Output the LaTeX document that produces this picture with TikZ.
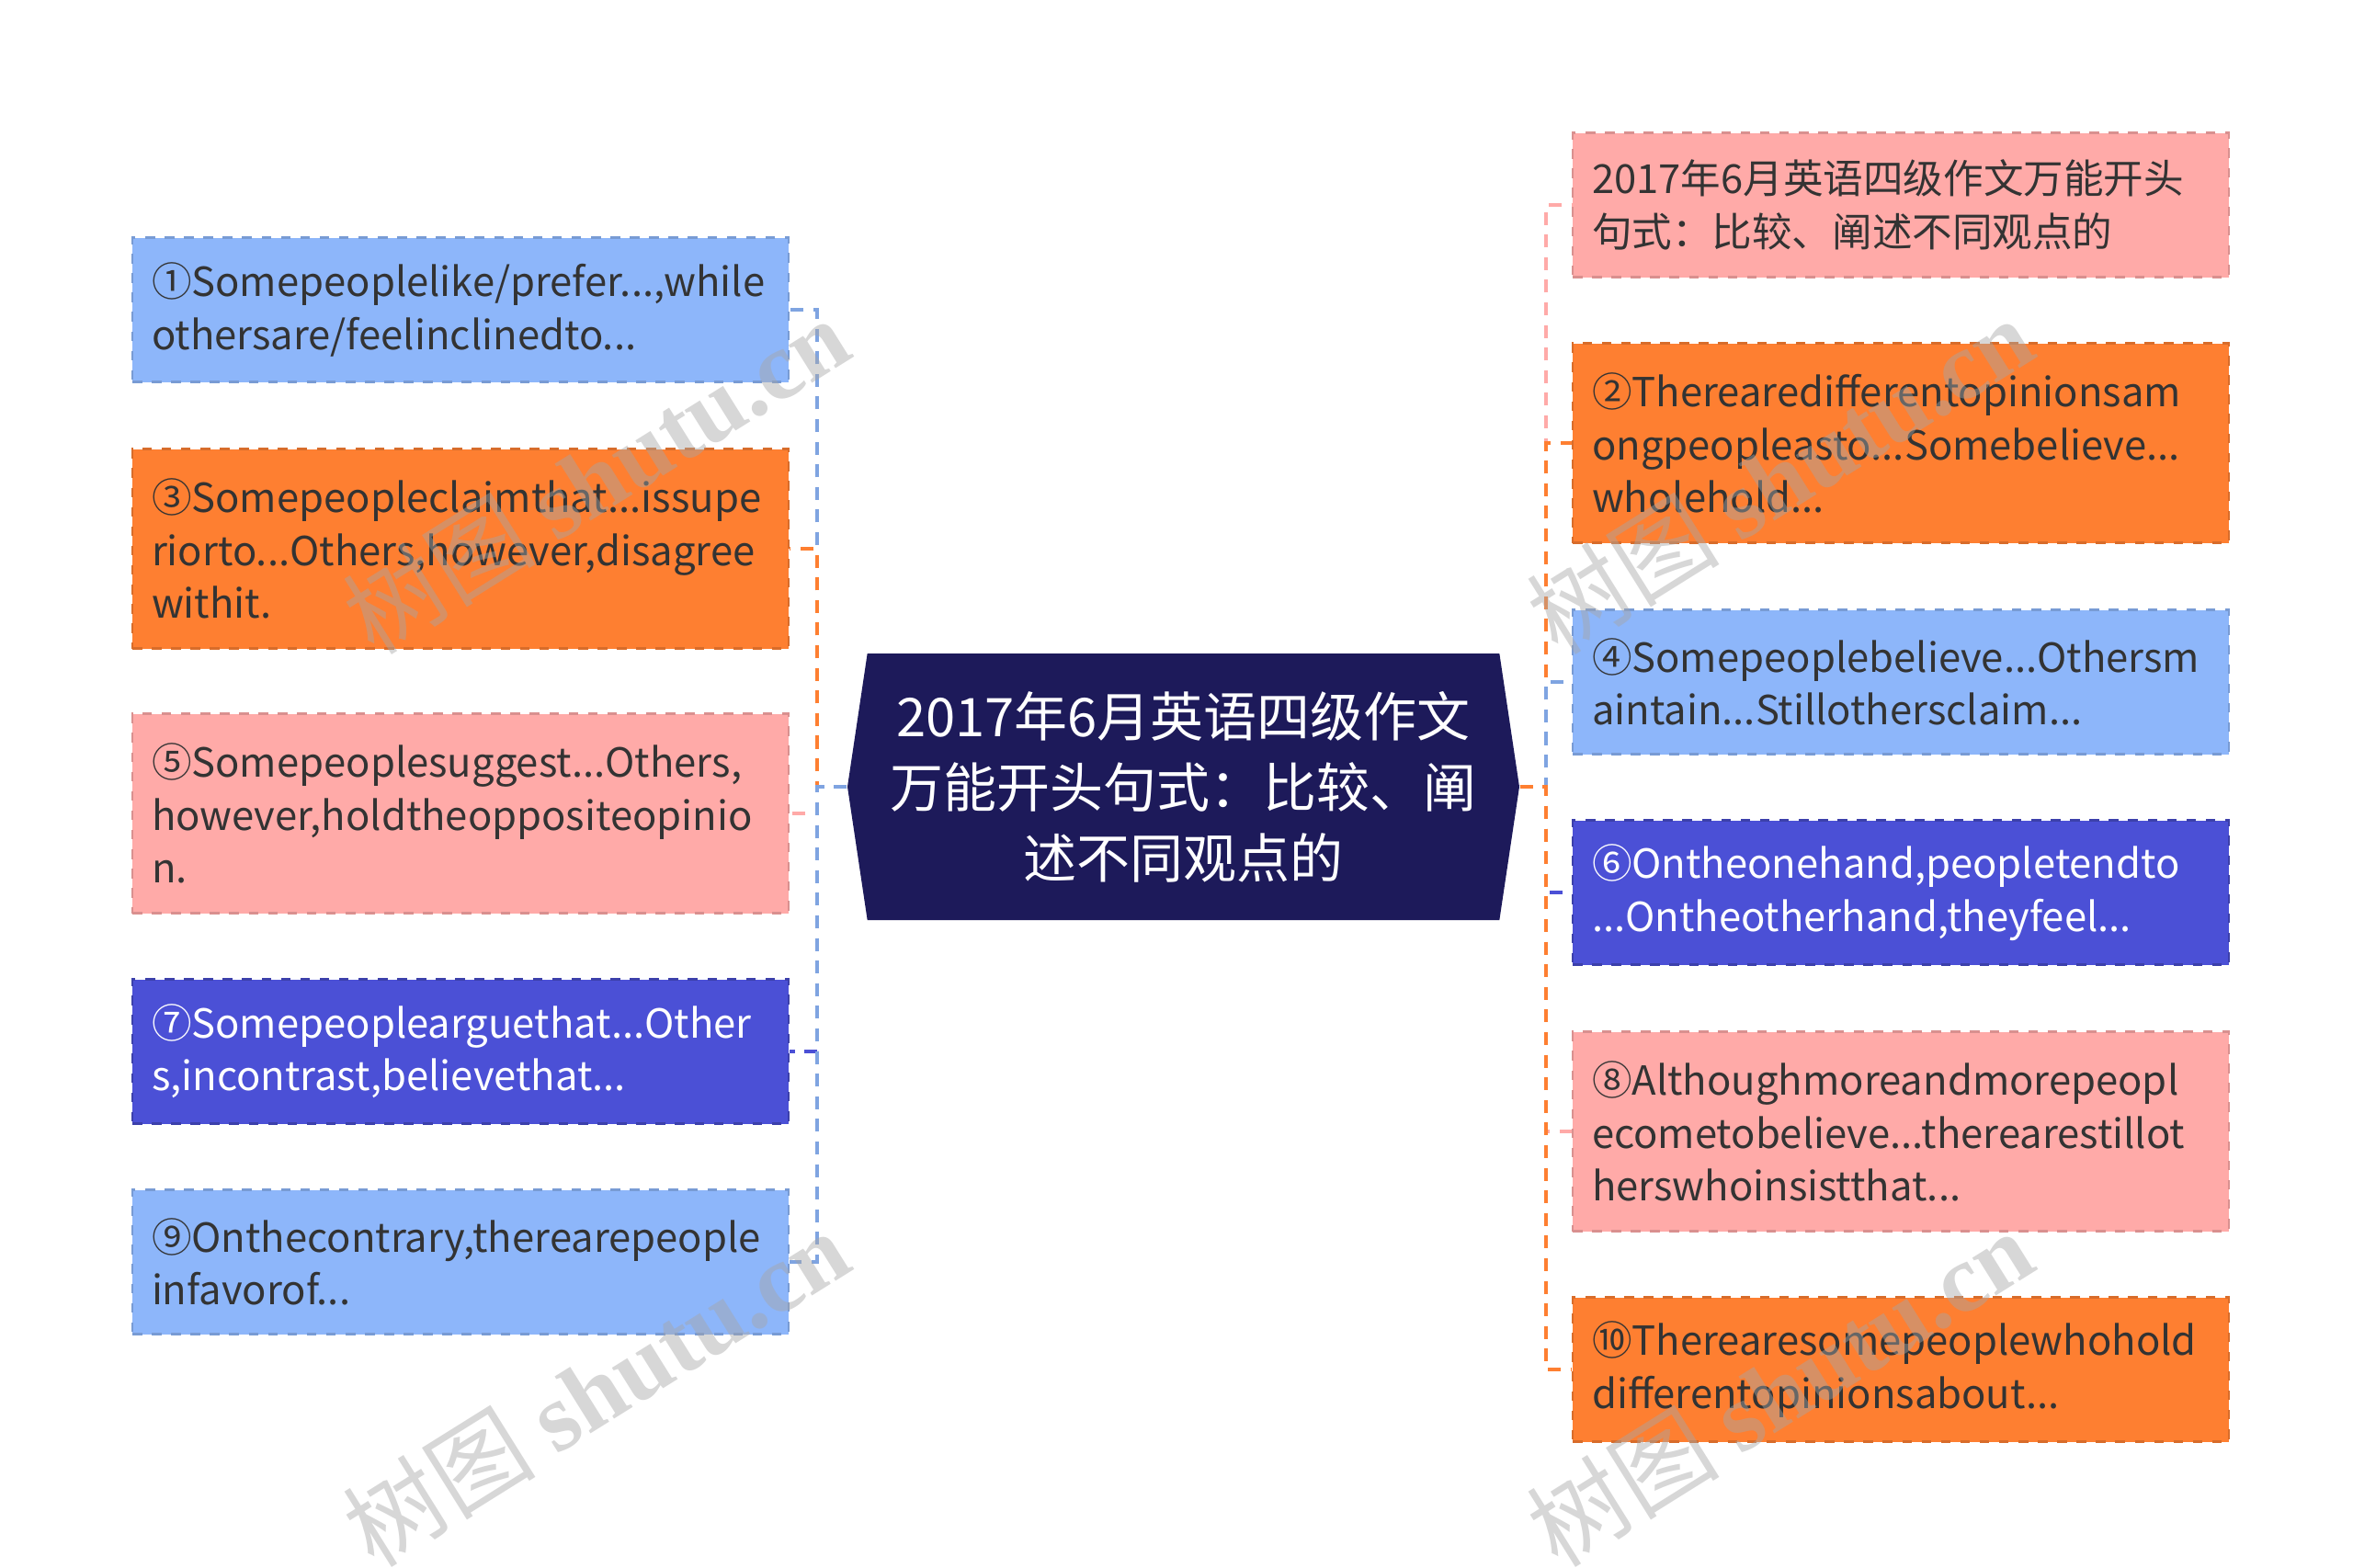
\documentclass[tikz,border=0pt]{standalone}
\usepackage{fontspec}
\setmainfont{Noto Sans CJK SC}
\newfontfamily\wmfont{Liberation Serif}
\usetikzlibrary{shapes.symbols}

\definecolor{navy}{HTML}{1D1A5A}
\definecolor{skyblue}{HTML}{8DB6FA}
\definecolor{tangerine}{HTML}{FE7F31}
\definecolor{rose}{HTML}{FFAAA8}
\definecolor{indigo}{HTML}{4B50D6}
\definecolor{inkgray}{HTML}{333333}

\begin{document}
\begin{tikzpicture}[x=1cm,y=1cm]
  \tikzstyle{root}=[signal,signal to=west and east,signal pointer angle=163,
                    fill=navy,text=white,minimum width=7.31cm,minimum height=2.9cm,
                    align=center,font=\fontsize{16.5}{21.9}\selectfont]
  \tikzstyle{topic}=[rectangle,dashed,line width=0.6pt,text=inkgray,
                     text width=6.72cm,align=left,inner xsep=0.21cm,inner ysep=0.2cm,
                     minimum height=1.57cm,font=\fontsize{12.4}{16.3}\selectfont]
  \tikzstyle{tall}=[minimum height=2.17cm]
  \tikzstyle{blue topic}=[topic,fill=skyblue,draw=skyblue!85!black]
  \tikzstyle{orange topic}=[topic,fill=tangerine,draw=tangerine!85!black]
  \tikzstyle{rose topic}=[topic,fill=rose,draw=rose!85!black]
  \tikzstyle{indigo topic}=[topic,fill=indigo,draw=indigo!80!black,text=white]
  \tikzstyle{link}=[line width=0.9pt,dash pattern=on 4pt off 3pt]
  \tikzstyle{watermark}=[rotate=32,text=black!35,opacity=0.45,font=\fontsize{30}{30}\selectfont]

  \useasboundingbox (0,0) rectangle (25.6,-17.05);

  \node [root] (root) at (12.875,-8.56)
    {2017年6月英语四级作文\\万能开头句式：比较、阐\\述不同观点的};

  % left branch
  \coordinate (lspine) at (8.89,-8.56);
  \node [blue topic] (l1) at (5.01,-3.37)
    {①Somepeoplelike/prefer...,while\\othersare/feelinclinedto...};
  \node [orange topic,tall] (l3) at (5.01,-5.97)
    {③Somepeopleclaimthat...issupe\\riorto...Others,however,disagree\\withit.};
  \node [rose topic,tall] (l5) at (5.01,-8.85)
    {⑤Somepeoplesuggest...Others,\\however,holdtheoppositeopinio\\n.};
  \node [indigo topic] (l7) at (5.01,-11.44)
    {⑦Somepeoplearguethat...Other\\s,incontrast,believethat...};
  \node [blue topic] (l9) at (5.01,-13.73)
    {⑨Onthecontrary,therearepeople\\infavorof...};

  % right branch
  \coordinate (rspine) at (16.82,-8.56);
  \node [rose topic] (r0) at (20.68,-2.23)
    {2017年6月英语四级作文万能开头\\句式：比较、阐述不同观点的};
  \node [orange topic,tall] (r2) at (20.68,-4.82)
    {②Therearedifferentopinionsam\\ongpeopleasto...Somebelieve...\\wholehold...};
  \node [blue topic] (r4) at (20.68,-7.42)
    {④Somepeoplebelieve...Othersm\\aintain...Stillothersclaim...};
  \node [indigo topic] (r6) at (20.68,-9.71)
    {⑥Ontheonehand,peopletendto\\...Ontheotherhand,theyfeel...};
  \node [rose topic,tall] (r8) at (20.68,-12.31)
    {⑧Althoughmoreandmorepeopl\\ecometobelieve...therearestillot\\herswhoinsistthat...};
  \node [orange topic] (r10) at (20.68,-14.90)
    {⑩Therearesomepeoplewhohold\\differentopinionsabout...};

  \draw [link,draw=skyblue!90!black] (root.west) -- (lspine) |- (l1.east);
  \draw [link,draw=tangerine] (root.west) -- (lspine) |- (l3.east);
  \draw [link,draw=rose] (root.west) -- (lspine) |- (l5.east);
  \draw [link,draw=indigo] (root.west) -- (lspine) |- (l7.east);
  \draw [link,draw=skyblue!90!black] (root.west) -- (lspine) |- (l9.east);

  \draw [link,draw=rose] (root.east) -- (rspine) |- (r0.west);
  \draw [link,draw=tangerine] (root.east) -- (rspine) |- (r2.west);
  \draw [link,draw=skyblue!90!black] (root.east) -- (rspine) |- (r4.west);
  \draw [link,draw=indigo] (root.east) -- (rspine) |- (r6.west);
  \draw [link,draw=rose] (root.east) -- (rspine) |- (r8.west);
  \draw [link,draw=tangerine] (root.east) -- (rspine) |- (r10.west);

  % watermarks
  \node [watermark] (wm1) at (6.48,-5.17) {树图 {\wmfont\bfseries shutu.cn}};
  \node [watermark] (wm2) at (6.48,-15.1) {树图 {\wmfont\bfseries shutu.cn}};
  \node [watermark] (wm3) at (19.36,-5.17) {树图 {\wmfont\bfseries shutu.cn}};
  \node [watermark] (wm4) at (19.36,-15.1) {树图 {\wmfont\bfseries shutu.cn}};
\end{tikzpicture}
\end{document}
